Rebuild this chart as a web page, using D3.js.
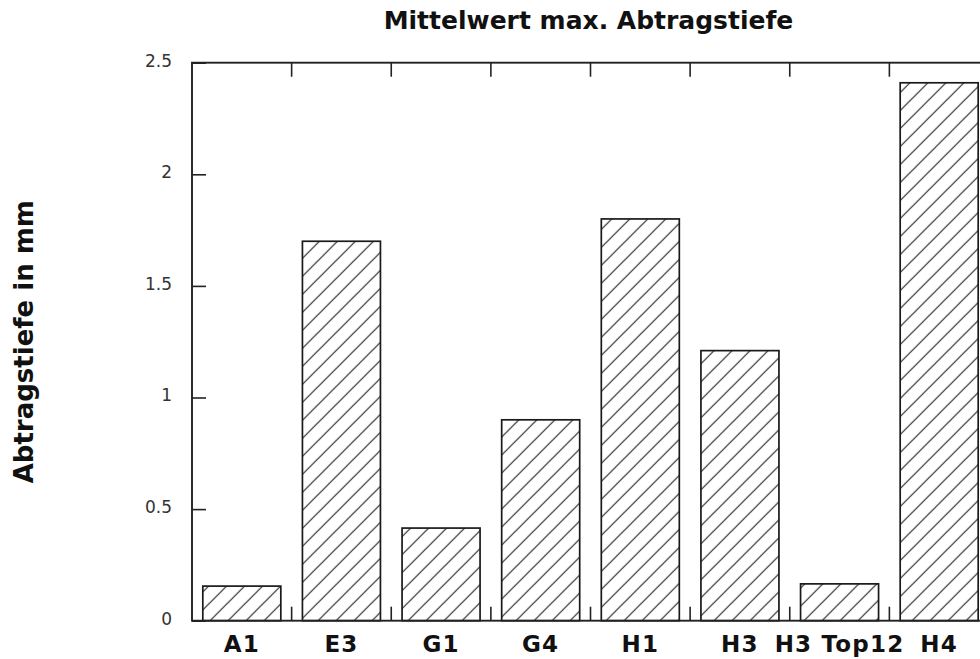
<!DOCTYPE html>
<html>
<head>
<meta charset="utf-8">
<title>Mittelwert max. Abtragstiefe</title>
<script src="https://cdn.jsdelivr.net/npm/d3@7"></script>
<style>
  html, body { margin: 0; padding: 0; background: #fff; }
  #chart { width: 980px; height: 659px; overflow: hidden; }
  .title { font-family: "DejaVu Sans", sans-serif; font-weight: bold; font-size: 25px; fill: #111; }
  .y-label { font-family: "DejaVu Sans", sans-serif; font-weight: bold; font-size: 26px; fill: #111; }
  .cat-label { font-family: "DejaVu Sans", sans-serif; font-weight: bold; font-size: 23px; letter-spacing: 1.2px; fill: #111; }
  .tick-label { font-family: "DejaVu Sans", sans-serif; font-size: 17px; fill: #333; }
</style>
</head>
<body>
<div id="chart"></div>
<script>
// data
const categories = ["A1", "E3", "G1", "G4", "H1", "H3", "H3 Top12", "H4"];
const values = [0.155, 1.7, 0.415, 0.9, 1.8, 1.21, 0.165, 2.41];
const yTicks = [0, 0.5, 1, 1.5, 2, 2.5];

document.addEventListener('DOMContentLoaded', function() {
    const W = 980, H = 659;
    // plot frame (right edge falls outside the picture, like the original)
    const margin = { top: 62.7, left: 192, bottom: 38.3 };
    const plotW = 797;
    const plotH = H - margin.top - margin.bottom;

    const svg = d3.select("#chart").append("svg")
        .attr("width", W)
        .attr("height", H);

    // hatch pattern for the bars
    const defs = svg.append("defs");
    const pat = defs.append("pattern")
        .attr("id", "hatch")
        .attr("patternUnits", "userSpaceOnUse")
        .attr("width", 18)
        .attr("height", 18);
    pat.append("rect").attr("width", 18).attr("height", 18).attr("fill", "#fff");
    pat.append("path")
        .attr("d", "M-2,2 L2,-2 M0,18 L18,0 M16,20 L20,16")
        .attr("stroke", "#2a2a2a")
        .attr("stroke-width", 1.2);

    const g = svg.append("g")
        .attr("transform", `translate(${margin.left},${margin.top})`);

    // scales
    const x = d3.scaleBand()
        .domain(categories)
        .range([0, plotW])
        .paddingInner(0.217)
        .paddingOuter(0.1085);

    const y = d3.scaleLinear()
        .domain([0, 2.5])
        .range([plotH, 0]);

    const step = x.step();
    const bounds = d3.range(1, categories.length).map(i => i * step);

    // bars
    g.selectAll(".bar")
        .data(categories.map((c, i) => ({ cat: c, val: values[i] })))
        .enter().append("rect")
        .attr("class", "bar")
        .attr("x", d => x(d.cat))
        .attr("y", d => y(d.val))
        .attr("width", x.bandwidth())
        .attr("height", d => y(0) - y(d.val))
        .attr("fill", "url(#hatch)")
        .attr("stroke", "#1a1a1a")
        .attr("stroke-width", 1.7);

    // frame
    g.append("rect")
        .attr("width", plotW)
        .attr("height", plotH)
        .attr("fill", "none")
        .attr("stroke", "#222")
        .attr("stroke-width", 1.9);

    // y axis ticks pointing inward + labels
    const yAxis = d3.axisLeft(y)
        .tickValues(yTicks)
        .tickSize(-14)
        .tickFormat(d3.format("~g"));
    const ya = g.append("g").call(yAxis);
    ya.select(".domain").remove();
    ya.selectAll("line").attr("stroke", "#222").attr("stroke-width", 1.6);
    ya.selectAll("text")
        .attr("class", "tick-label")
        .attr("x", -20)
        .attr("dy", "0.2em")
        .attr("fill", null);
    ya.attr("font-size", null).attr("font-family", null);

    // ticks between categories on top and bottom
    g.selectAll(".tick-top")
        .data(bounds)
        .enter().append("line")
        .attr("x1", d => d).attr("x2", d => d)
        .attr("y1", 0).attr("y2", 14)
        .attr("stroke", "#222").attr("stroke-width", 1.6);
    g.selectAll(".tick-bot")
        .data(bounds)
        .enter().append("line")
        .attr("x1", d => d).attr("x2", d => d)
        .attr("y1", plotH).attr("y2", plotH - 14)
        .attr("stroke", "#222").attr("stroke-width", 1.6);

    // category labels
    g.selectAll(".cat-label")
        .data(categories)
        .enter().append("text")
        .attr("class", "cat-label")
        .attr("x", d => x(d) + x.bandwidth() / 2)
        .attr("y", plotH + 31)
        .attr("text-anchor", "middle")
        .text(d => d);

    // title
    svg.append("text")
        .attr("class", "title")
        .attr("x", margin.left + plotW / 2 - 2)
        .attr("y", 29)
        .attr("text-anchor", "middle")
        .text("Mittelwert max. Abtragstiefe");

    // y axis title
    svg.append("text")
        .attr("class", "y-label")
        .attr("transform", `translate(33,${margin.top + plotH / 2}) rotate(-90)`)
        .attr("text-anchor", "middle")
        .text("Abtragstiefe in mm");
});
</script>
</body>
</html>
